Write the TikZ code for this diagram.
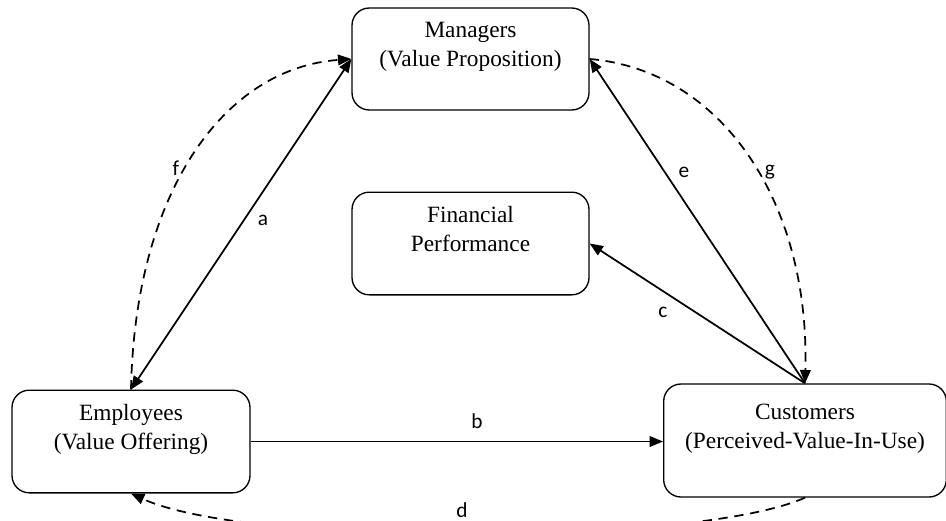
\documentclass[tikz,border=0pt]{standalone}
\usepackage{fontspec}
\setmainfont{Liberation Serif}
\newfontfamily\lblfont{Carlito}
\usepackage{tikz}
\usetikzlibrary{arrows.meta, positioning, calc}
\usepackage{xcolor}

\tikzset{
  actor/.style={draw, line width=1pt, rounded corners=13pt, align=center,
    font=\fontsize{17.5}{21.75}\selectfont},
  link/.style={line width=1.3pt, -{Triangle[length=10pt,width=8pt]}},
  both/.style={line width=1.3pt, {Triangle[length=10pt,width=8pt]}-{Triangle[length=10pt,width=8pt]}},
  loop/.style={line width=1.3pt, dash pattern=on 7pt off 5pt, -{Triangle[length=10pt,width=8pt]}},
  lbl/.style={font=\lblfont\fontsize{16}{18}\selectfont}
}

\begin{document}
\begin{tikzpicture}[x=0.75pt,y=-0.75pt]
  \useasboundingbox (0,0) rectangle (946,521);
  % boxes
  \node[actor, minimum width=177.75pt, minimum height=76.5pt] (mgr) at (470.5,59)
    {Managers\\(Value Proposition)\\\mbox{}};
  \node[actor, minimum width=177.75pt, minimum height=77pt] (fin) at (470.5,243.5)
    {Financial\\Performance\\\mbox{}};
  \node[actor, minimum width=178.5pt, minimum height=77pt] (emp) at (131,441.5)
    {Employees\\(Value Offering)\\\mbox{}};
  \node[actor, minimum width=212pt, minimum height=84.75pt] (cust) at (805,440.5)
    {Customers\\(Perceived-Value-In-Use)\\\mbox{}};
  % solid links
  \draw[both] (emp.north) -- (mgr.west);
  \draw[link] (emp.east) -- (emp.east -| cust.west);
  \draw[link] (cust.north) -- (fin.east);
  \draw[link] (cust.north) -- (mgr.east);
  % dashed feedback
  \draw[loop] (emp.north) .. controls (135,190) and (225,68) .. (mgr.west);
  \draw[loop] (mgr.east) .. controls (720,70) and (810,200) .. (cust.north);
  \draw[loop] (cust.south) .. controls (700,545) and (250,548) .. (emp.south);
  % labels
  \node[lbl] (la) at (263,220) {a};
  \node[lbl] (lb) at (477,421) {b};
  \node[lbl] (lc) at (663,312) {c};
  \node[lbl] (ld) at (462,510) {d};
  \node[lbl] (le) at (684,172) {e};
  \node[lbl] (lf) at (176,168) {f};
  \node[lbl] (lg) at (770,172) {g};
\end{tikzpicture}
\end{document}
